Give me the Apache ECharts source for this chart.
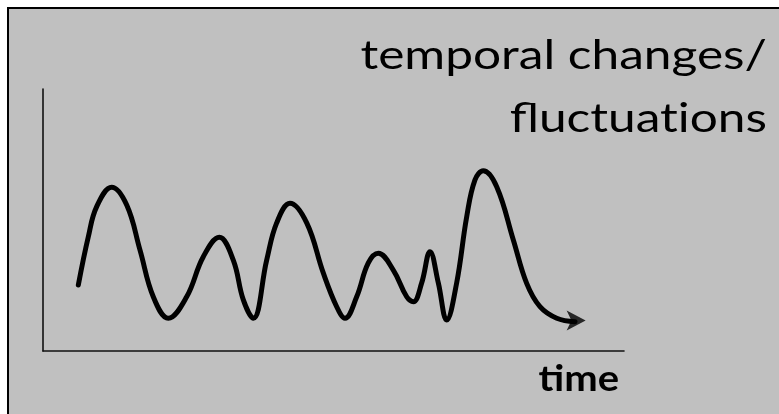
<!DOCTYPE html>
<html>
<head>
<meta charset="utf-8">
<script src="https://cdn.jsdelivr.net/npm/echarts@6/dist/echarts.min.js"></script>
<style>html,body{margin:0;padding:0;background:#fff;}#c{width:779px;height:414px;}</style>
</head>
<body>
<div id="c"></div>
<script>
// time (0-100) and fluctuation value (0-100)
var times = [6.08, 7.8, 9.24, 11.82, 14.41, 16.7, 18.98, 21.57, 24.73, 27.59, 30.34, 32.75, 34.48, 36.2, 38.5, 40.22, 42.51, 45.39, 48.24, 50.55, 51.98, 53.99, 55.99, 57.71, 60.29, 62.6, 63.74, 65.18, 66.61, 68.04, 69.48, 71.2, 72.93, 74.35, 75.78, 78.09, 80.95, 83.25, 85.54, 88.42, 91.57];
var values = [25.2, 43.6, 55.1, 62.5, 55.7, 38.5, 20.7, 12.5, 20.7, 36.0, 43.4, 34.7, 19.5, 12.5, 34.7, 48.9, 56.4, 48.9, 29.8, 16.9, 12.5, 20.7, 33.6, 37.3, 30.9, 20.7, 18.8, 26.0, 37.9, 26.0, 11.8, 26.0, 51.3, 65.3, 68.8, 62.7, 42.4, 25.8, 16.9, 12.5, 11.2];
var arrowPoint = [93.4, 11.6];
var titleLines = ['temporal changes/', 'fluct\u200Cuat\u200Cions'];
var axisText = 'time';

var chart = echarts.init(document.getElementById('c'));
var lineData = times.map(function (t, i) { return [t, values[i]]; });
chart.setOption({
  backgroundColor: '#ffffff',
  animation: false,
  graphic: [
    { type: 'rect', z: -10, shape: { x: 8, y: 8, width: 790, height: 430 },
      style: { fill: '#c0c0c0', stroke: '#000', lineWidth: 2 } },
    { type: 'text', x: 767, y: 56, scaleX: 1.21, z: 10,
      style: { text: titleLines[0], fill: '#000', font: '41px Lato', align: 'right', verticalAlign: 'middle' } },
    { type: 'text', x: 767, y: 119, scaleX: 1.21, z: 10,
      style: { text: titleLines[1], fill: '#000', font: '41px Lato', align: 'right', verticalAlign: 'middle' } },
    { type: 'text', x: 619, y: 379, scaleX: 1.11, z: 10,
      style: { text: axisText, fill: '#000', font: 'bold 36px Lato', align: 'right', verticalAlign: 'middle' } }
  ],
  grid: { left: 43, top: 89, right: 155, bottom: 63, containLabel: false },
  xAxis: { type: 'value', min: 0, max: 100,
    axisLine: { show: true, lineStyle: { color: '#111', width: 1.6 } },
    axisTick: { show: false }, axisLabel: { show: false }, splitLine: { show: false } },
  yAxis: { type: 'value', min: 0, max: 100,
    axisLine: { show: true, lineStyle: { color: '#111', width: 1.6 } },
    axisTick: { show: false }, axisLabel: { show: false }, splitLine: { show: false } },
  series: [
    { type: 'line', data: lineData, smooth: 0.4, symbol: 'none',
      lineStyle: { color: '#000', width: 5, cap: 'round', join: 'round' } },
    { type: 'scatter', data: [arrowPoint], symbol: 'arrow', symbolSize: [15, 19], symbolRotate: -90,
      itemStyle: { color: '#000' } }
  ]
});
</script>
</body>
</html>
